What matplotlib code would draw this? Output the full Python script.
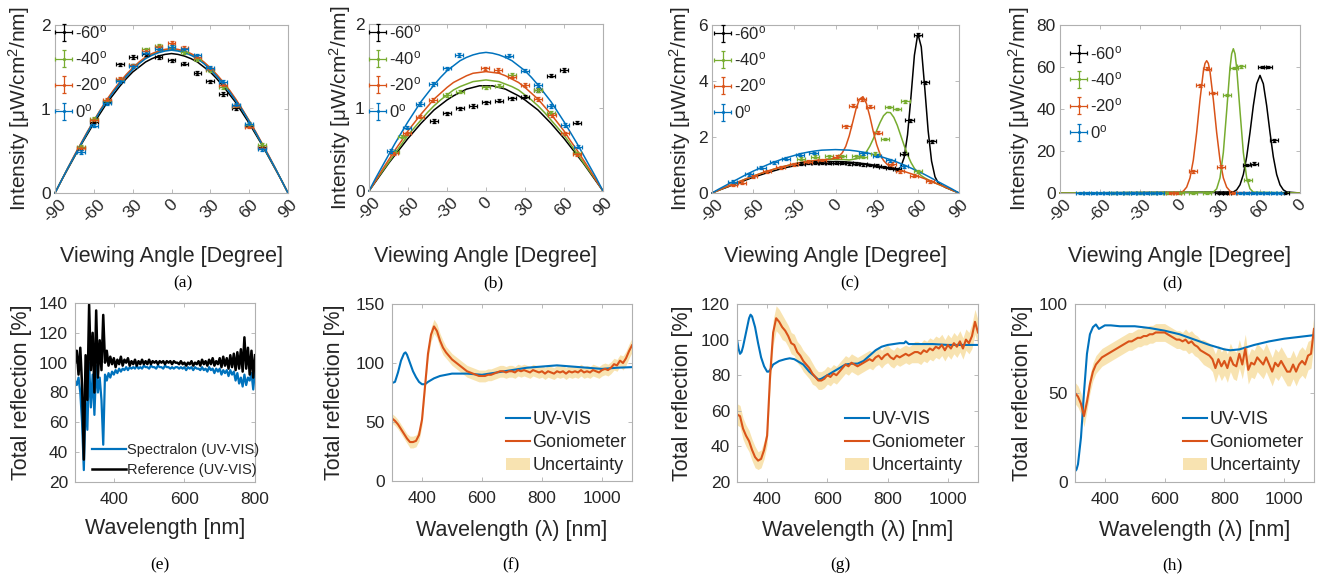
import numpy as np
import matplotlib
matplotlib.use('Agg')
import matplotlib.pyplot as plt
from matplotlib.lines import Line2D
from matplotlib.patches import Patch

plt.rcParams['font.family'] = ['Liberation Sans', 'DejaVu Sans']
plt.rcParams['mathtext.fontset'] = 'custom'
plt.rcParams['mathtext.rm'] = 'Liberation Sans'
plt.rcParams['mathtext.it'] = 'Liberation Sans:italic'

# ======================= DATA =======================
# --- top row: angular intensity (fits on 5-degree grid) ---
fit_x = np.arange(-90, 91, 5)
series_labels = ['-60$^\\mathrm{o}$', '-40$^\\mathrm{o}$', '-20$^\\mathrm{o}$', '0$^\\mathrm{o}$']

# (a)
a_fit_m60 = [0, .15, .29, .43, .57, .70, .83, .95, 1.07, 1.17, 1.27, 1.36, 1.44, 1.50, 1.56, 1.60, 1.63, 1.65, 1.66,
             1.65, 1.63, 1.60, 1.56, 1.50, 1.44, 1.36, 1.27, 1.17, 1.07, .95, .83, .70, .57, .43, .29, .15, 0]
a_fit_m40 = [0, .15, .30, .44, .58, .72, .86, .98, 1.10, 1.21, 1.31, 1.40, 1.48, 1.55, 1.61, 1.65, 1.68, 1.70, 1.71,
             1.70, 1.68, 1.65, 1.61, 1.55, 1.48, 1.40, 1.31, 1.21, 1.10, .98, .86, .72, .58, .44, .30, .15, 0]
a_fit_m20 = [0, .15, .30, .45, .59, .73, .86, .99, 1.11, 1.22, 1.32, 1.41, 1.49, 1.56, 1.62, 1.66, 1.69, 1.71, 1.72,
             1.71, 1.69, 1.66, 1.62, 1.56, 1.49, 1.41, 1.32, 1.22, 1.11, .99, .86, .73, .59, .45, .30, .15, 0]
a_fit_0 = [0, .15, .30, .44, .58, .72, .85, .98, 1.09, 1.20, 1.30, 1.39, 1.47, 1.54, 1.60, 1.64, 1.67, 1.69, 1.70,
           1.69, 1.67, 1.64, 1.60, 1.54, 1.47, 1.39, 1.30, 1.20, 1.09, .98, .85, .72, .58, .44, .30, .15, 0]
a_x = [-70, -60, -50, -40, -30, -20, -10, 0, 10, 20, 30, 40, 50, 60, 70]
a_m60 = [0.53, 0.85, 1.08, 1.53, 1.62, 1.65, 1.62, 1.58, 1.54, 1.43, 1.33, 1.18, 1.01, 0.80, 0.55]
a_m40 = [0.55, 0.88, 1.10, 1.35, 1.52, 1.71, 1.75, 1.74, 1.68, 1.59, 1.46, 1.26, 1.04, 0.81, 0.57]
a_m20 = [0.54, 0.87, 1.11, 1.36, 1.52, 1.69, 1.74, 1.79, 1.73, 1.62, 1.48, 1.29, 1.04, 0.79, 0.54]
a_0 = [0.49, 0.80, 1.07, 1.33, 1.51, 1.67, 1.72, 1.74, 1.71, 1.64, 1.49, 1.32, 1.05, 0.82, 0.52]

# (b)
b_fit_m60 = [0, .11, .22, .33, .43, .53, .63, .72, .81, .89, .97, 1.03, 1.09, 1.14, 1.18, 1.22, 1.24, 1.26, 1.26,
             1.26, 1.24, 1.22, 1.18, 1.14, 1.09, 1.03, .97, .89, .81, .72, .63, .53, .43, .33, .22, .11, 0]
b_fit_m40 = [0, .12, .23, .34, .45, .56, .67, .76, .85, .94, 1.02, 1.09, 1.15, 1.21, 1.25, 1.28, 1.31, 1.32, 1.33,
             1.32, 1.31, 1.28, 1.25, 1.21, 1.15, 1.09, 1.02, .94, .85, .76, .67, .56, .45, .34, .23, .12, 0]
b_fit_m20 = [0, .12, .25, .37, .49, .60, .72, .82, .92, 1.01, 1.10, 1.17, 1.24, 1.30, 1.34, 1.38, 1.41, 1.42, 1.43,
             1.42, 1.41, 1.38, 1.34, 1.30, 1.24, 1.17, 1.10, 1.01, .92, .82, .72, .60, .49, .37, .25, .12, 0]
b_fit_0 = [0, .15, .29, .43, .57, .70, .83, .95, 1.07, 1.17, 1.27, 1.36, 1.44, 1.50, 1.56, 1.60, 1.63, 1.65, 1.66,
           1.65, 1.63, 1.60, 1.56, 1.50, 1.44, 1.36, 1.27, 1.17, 1.07, .95, .83, .70, .57, .43, .29, .15, 0]
b_x_m60 = [-40, -30, -20, -10, 0, 10, 20, 30, 40, 50, 60, 70]
b_y_m60 = [0.84, 0.93, 0.99, 1.02, 1.06, 1.08, 1.11, 1.13, 1.21, 1.38, 1.45, 0.82]
b_x_m40 = [-70, -65, -30, -20, 0, 10, 20, 40, 50, 70]
b_y_m40 = [0.47, 0.65, 1.15, 1.19, 1.24, 1.26, 1.39, 1.21, 0.94, 0.45]
b_x_m20 = [-71, -61, -51, -41, -1, 9, 20, 30, 40, 51, 61, 70]
b_y_m20 = [0.45, 0.69, 0.89, 1.09, 1.47, 1.45, 1.37, 1.27, 1.10, 0.91, 0.69, 0.44]
b_x_0 = [-73, -61, -51, -41, -30, -21, 18, 30, 40, 50, 61, 71]
b_y_0 = [0.48, 0.76, 1.04, 1.28, 1.47, 1.63, 1.62, 1.44, 1.27, 1.02, 0.79, 0.53]

# (c)
c_fit_0 = [0, .14, .27, .40, .53, .66, .78, .89, 1.00, 1.10, 1.19, 1.27, 1.34, 1.41, 1.46, 1.50, 1.53, 1.54, 1.55,
           1.54, 1.53, 1.50, 1.46, 1.41, 1.34, 1.27, 1.19, 1.10, 1.00, .89, .78, .66, .53, .40, .27, .14, 0]
c_fit_m60_x = np.r_[np.arange(-90, 46, 5), np.arange(47.5, 75.1, 2.5), [80, 85, 90]]
c_fit_m60 = [0, .10, .19, .29, .38, .47, .56, .64, .72, .79, .86, .92, .97, 1.02, 1.05, 1.08, 1.10, 1.12, 1.12, 1.12,
             1.10, 1.08, 1.05, 1.02, .97, .92, .86, .83, .92, 1.26, 2.08, 3.44, 4.92, 5.69, 5.22, 3.78, 2.23, 1.14,
             .58, .35, .20, .10, 0]
c_fit_m20_x = np.r_[np.arange(-90, -4, 5), np.arange(0, 40.1, 2.5), np.arange(45, 91, 5)]
c_fit_m20 = [0, .10, .21, .31, .41, .51, .60, .69, .77, .85, .92, .98, 1.04, 1.09, 1.13, 1.16, 1.18, 1.20,
             1.25, 1.31, 1.44, 1.67, 2.04, 2.52, 3.01, 3.35, 3.44, 3.20, 2.74, 2.20, 1.73, 1.38, 1.16, 1.03, .95,
             .85, .77, .69, .60, .51, .41, .31, .21, .10, 0]
c_fit_m40_x = np.r_[np.arange(-90, 11, 5), np.arange(15, 65.1, 2.5), np.arange(70, 91, 5)]
c_fit_m40 = [0, .10, .21, .31, .41, .51, .60, .69, .77, .85, .92, .98, 1.04, 1.09, 1.13, 1.16, 1.18, 1.20, 1.20, 1.20, 1.18,
             1.22, 1.26, 1.34, 1.47, 1.67, 1.93, 2.23, 2.52, 2.76, 2.88, 2.87, 2.70, 2.42, 2.06, 1.70, 1.37, 1.09, .88,
             .73, .62, .54, .41, .31, .21, .10, 0]
c_x_m60 = [-25, -20, -15, -10, -5, 0, 5, 10, 15, 20, 25, 30, 35, 40, 45, 50, 54, 60, 65, 70]
c_y_m60 = [1.05, 1.07, 1.08, 1.08, 1.08, 1.08, 1.07, 1.06, 1.05, 1.03, 1.00, 0.97, 0.93, 0.89, 0.85, 1.40, 2.60,
           5.65, 3.95, 1.85]
c_x_m40 = [-25, -15, -5, 5, 15, 20, 29, 36, 39, 45, 51, 60]
c_y_m40 = [1.22, 1.30, 1.31, 1.32, 1.31, 1.30, 1.40, 1.93, 3.07, 3.00, 3.27, 0.78]
c_x_m20 = [-75, -68, -60, -50, -40, -30, -20, -10, 1, 8, 13, 19, 25, 31, 41, 47, 57, 69]
c_y_m20 = [0.30, 0.37, 0.60, 0.77, 0.92, 1.03, 1.12, 1.18, 1.30, 2.38, 3.12, 3.34, 3.08, 2.15, 1.05, 0.78, 0.62, 0.42]
c_x_0 = [-75, -63, -54, -45, -36, -26, -16, 20, 30, 40, 50]
c_y_0 = [0.40, 0.67, 0.91, 1.09, 1.22, 1.37, 1.43, 1.42, 1.33, 1.17, 0.96]

# (d)
d_fit_m60_x = np.r_[[-90], np.arange(40, 80.1, 2.5), [90]]
d_fit_m60 = [0, .5, 1.5, 3.9, 8.8, 17.2, 28.8, 41.6, 52.0, 56, 52.0, 41.6, 28.8, 17.2, 8.8, 3.9, 1.5, .5, 0]
d_fit_m40_x = [-90, 25, 27.5, 30, 32.5, 35, 37.5, 38.75, 40, 41.25, 42.5, 45, 47.5, 50, 52.5, 55, 90]
d_fit_m40 = [0, .4, 2.0, 7.2, 19.3, 39.0, 59.6, 66.3, 68.7, 66.3, 59.6, 39.0, 19.3, 7.2, 2.0, .4, 0]
d_fit_m20_x = [-90, 0, 2.5, 5, 7.5, 10, 12.5, 15, 17.5, 18.75, 20, 21.25, 22.5, 25, 27.5, 30, 32.5, 35, 37.5, 40, 90]
d_fit_m20 = [0, .2, .9, 2.8, 7.2, 15.7, 28.8, 44.5, 57.8, 61.7, 63, 61.7, 57.8, 44.5, 28.8, 15.7, 7.2, 2.8, .9, .2, 0]
d_x_m60 = [29, 32, 35, 50, 55.5, 61.5, 66, 70.5, 78.75]
d_y_m60 = [0, 0, 0, 13.4, 14.0, 60, 60, 25.1, 0]
d_x_m40 = [-50, -40, -30, -20, -10, 0, 10, 20, 35, 40.5, 46, 51]
d_y_m40 = [0, 0, 0, 0, 0, 0, 0, 0, 46.6, 59.5, 60.3, 6.2]
d_x_m20 = [-7.5, -2.5, 10, 15, 20, 25, 30.5, 40]
d_y_m20 = [0, 0, 10.3, 51.2, 59.2, 47.7, 12.5, 0]
d_x_0 = [-75, -70, -65, -60, -55, -50, -45, -40, -35, -30, -25, -20, -15, 45, 50, 55, 60, 65, 70, 75]
d_y_0 = [0, 0, 0, 0, 0, 0, 0, 0, 0, 0, 0, 0, 0, 0, 0, 0, 0, 0, 0, 0]

# --- bottom row: reflection spectra ---
e_wl = np.arange(290, 801, 5)
e_reference = [100, 108, 92, 110, 85, 35, 105, 75, 139, 95, 120, 80, 135, 90, 115, 95, 132, 100, 108,
               98, 104, 99, 103, 97, 102, 99, 104, 98, 102, 100, 103, 98, 101, 99, 102, 98, 101, 99, 102,
               99, 101, 99, 102, 99, 101, 100, 101, 99, 101, 100, 101, 99, 101, 100, 101, 99, 101, 100, 100,
               99, 101, 99, 100, 98, 100, 99, 101, 98, 100, 99, 101, 98, 102, 99, 101, 98, 102, 99, 103,
               98, 101, 99, 103, 97, 104, 98, 103, 96, 105, 97, 106, 95, 107, 96, 109, 94, 117, 96, 110, 92, 108, 90, 105]
e_spectralon = [88, 85, 90, 80, 60, 28, 75, 55, 100, 70, 92, 65, 98, 80, 90, 75, 45, 92, 88,
                93, 90, 94, 92, 95, 93, 96, 94, 96, 95, 97, 95, 97, 96, 97, 96, 98, 96, 97, 96,
                98, 97, 97, 96, 98, 97, 97, 96, 98, 97, 97, 96, 98, 97, 97, 96, 97, 96, 97, 97,
                96, 97, 96, 97, 95, 97, 96, 97, 95, 97, 96, 96, 95, 97, 95, 96, 94, 97, 95, 96,
                93, 96, 94, 96, 92, 95, 93, 95, 91, 95, 92, 94, 88, 93, 86, 90, 84, 92, 85, 90, 88, 93, 82, 95]

gon_wl = np.arange(300, 1101, 10)

f_uv_wl = [300, 310, 320, 330, 340, 345, 350, 360, 370, 380, 390, 400, 410, 420, 440, 460, 480, 500, 550, 600,
           650, 700, 750, 800, 850, 900, 950, 1000, 1050, 1100]
f_uv = [83, 84, 92, 102, 108, 109, 107, 100, 93, 88, 84, 82, 82, 84, 87, 89, 90, 91, 91, 90,
        92, 94, 96, 97, 98, 97, 96, 95, 96, 96.5]
f_gon = [53, 51, 48, 44, 40, 36, 33, 33, 34, 39,
         52, 80, 108, 124, 131, 127, 119, 113, 109, 106,
         103, 101, 99, 97, 95, 93, 92, 91, 90, 89,
         89, 89, 90, 90, 91, 92, 93, 93, 92, 93,
         93, 92, 94, 93, 94, 93, 92, 94, 93, 92,
         93, 91, 93, 92, 91, 93, 92, 93, 91, 93,
         92, 93, 92, 94, 92, 93, 92, 94, 93, 92,
         94, 95, 94, 96, 99, 98, 102, 100, 104, 110,
         115]
f_unc = [4, 4, 4, 4, 4, 4, 5, 5, 5, 5,
         5, 5, 5, 6, 6, 6, 6, 6, 5, 5,
         5, 5, 5, 5, 5, 5, 5, 5, 5, 5,
         5, 5, 5, 5, 5, 5, 5, 5, 5, 5,
         5, 5, 5, 5, 5, 5, 5, 5, 5, 5,
         5, 5, 5, 5, 5, 5, 5, 5, 5, 5,
         5, 5, 5, 5, 5, 5, 5, 5, 5, 5,
         5, 5, 5, 5, 5, 5, 5, 6, 6, 6,
         6]

g_uv_wl = [300, 305, 310, 315, 320, 330, 340, 345, 350, 360, 370, 380, 390, 400, 405, 410, 420, 440, 460, 475,
           490, 500, 520, 540, 560, 570, 580, 600, 620, 640, 660, 680, 700, 720, 740, 760, 780, 800, 820, 840,
           855, 860, 870, 900, 950, 1000, 1050, 1100]
g_uv = [100, 95, 92, 93, 96, 104, 112, 114, 113, 107, 98, 90, 85, 82, 82, 83, 86, 88, 89, 89.5,
        89, 88, 86, 82, 79, 77.5, 78, 80, 82, 84, 86, 86.5, 86.5, 88, 91, 94, 96, 97, 97.5, 98,
        98, 99, 97.5, 97.5, 97.5, 97, 97, 97]
g_gon = [58, 57, 50, 46, 43, 38, 34, 32, 33, 38,
         46, 80, 104, 112, 110, 107, 105, 102, 98, 97,
         93, 91, 88, 86, 84, 81, 79, 77, 77, 78,
         80, 79, 81, 80, 82, 84, 86, 85, 87, 86,
         85, 86, 87, 88, 89, 88, 90, 91, 89, 91,
         92, 90, 89, 91, 90, 91, 92, 91, 92, 93,
         93, 92, 94, 93, 95, 94, 96, 95, 97, 94,
         97, 95, 98, 96, 99, 95, 100, 98, 102, 110,
         104]
g_unc = [6, 6, 6, 6, 6, 6, 6, 5, 5, 5,
         5, 6, 7, 7, 7, 7, 6, 6, 6, 6,
         6, 6, 6, 6, 6, 6, 5, 5, 5, 5,
         5, 5, 5, 5, 5, 5, 5, 5, 5, 5,
         5, 5, 5, 5, 5, 5, 5, 5, 5, 5,
         5, 5, 5, 5, 5, 5, 5, 5, 5, 6,
         6, 6, 6, 6, 6, 6, 6, 6, 6, 6,
         6, 6, 6, 6, 6, 6, 6, 6, 7, 7,
         7]

h_uv_wl = [300, 305, 310, 320, 330, 340, 350, 360, 370, 380, 390, 400, 420, 450, 500, 550, 600, 650, 700, 750,
           800, 820, 850, 900, 950, 1000, 1050, 1100]
h_uv = [6, 7, 10, 25, 50, 72, 83, 87, 88.5, 86, 87, 88, 88, 87.5, 87.5, 86.5, 85, 83, 80, 77,
        74.5, 74, 74.5, 77, 79, 80.5, 81.5, 82.5]
h_gon = [50, 48, 44, 37, 45, 55, 62, 66, 68, 70,
         71, 72, 73, 74, 75, 76, 77, 78, 79, 79,
         80, 81, 81, 82, 82, 83, 83, 84, 84, 84,
         84, 83, 82, 81, 80, 80, 79, 80, 78, 79,
         77, 76, 74, 73, 72, 71, 69, 64, 69, 65,
         68, 64, 70, 66, 65, 72, 66, 75, 63, 67,
         66, 70, 68, 66, 70, 66, 62, 67, 65, 68,
         65, 62, 62, 66, 62, 66, 68, 66, 71, 72,
         86]
h_unc = [6, 6, 6, 6, 5, 5, 5, 5, 5, 5,
         5, 5, 5, 5, 5, 5, 5, 5, 5, 5,
         5, 5, 5, 5, 5, 5, 5, 5, 5, 5,
         5, 5, 5, 5, 5, 5, 5, 6, 6, 6,
         6, 6, 6, 7, 7, 7, 7, 8, 8, 8,
         8, 8, 8, 8, 8, 8, 8, 8, 8, 8,
         8, 8, 8, 8, 8, 8, 8, 8, 8, 8,
         8, 8, 8, 8, 8, 8, 8, 8, 8, 8,
         8]

# ======================= STYLE / LAYOUT =======================
C_BLUE, C_ORANGE, C_YELLOW, C_GREEN, C_BLACK = '#0072BD', '#D95319', '#EDB120', '#77AC30', '#000000'
TXT = '#262626'
EDGE = '#B0B0B0'

W, H = 1324, 579
fig = plt.figure(figsize=(W / 100, H / 100), dpi=100)


def make_ax(l, t, r, b, tick_fs):
    ax = fig.add_axes([l / W, 1 - b / H, (r - l) / W, (b - t) / H])
    for s in ax.spines.values():
        s.set_color(EDGE)
        s.set_linewidth(0.8)
    ax.tick_params(which='both', direction='in', top=True, right=True, length=3, width=0.6,
                   color=EDGE, labelcolor=TXT, labelsize=tick_fs)
    return ax


def fig_legend(ax, handles, labels, x_px, y_px, fs, **kw):
    return ax.legend(handles, labels, loc='upper left', bbox_to_anchor=(x_px / W, 1 - y_px / H),
                     bbox_transform=fig.transFigure, frameon=False, fontsize=fs,
                     borderpad=0, borderaxespad=0, labelcolor=TXT, **kw)


def top_panel(box, curves, points, ylim, yticks, xlabels, yerr, leg_xy, ylab_x):
    ax = make_ax(*box, tick_fs=12.5)
    for x, y, c in curves:
        ax.plot(x, y, color=c, lw=1.1, clip_on=False, zorder=2)
    handles = []
    for x, y, c in points:
        h = ax.errorbar(x, y, xerr=3, yerr=yerr, fmt='.', color=c, ms=2.5, elinewidth=0.9,
                        capsize=1.5, capthick=0.9, clip_on=False, zorder=3)
        handles.append(h)
    ax.set_xlim(-90, 90)
    ax.set_ylim(*ylim)
    ax.set_yticks(yticks)
    ax.set_xticks([-90, -60, -30, 0, 30, 60, 90])
    ax.set_xticklabels(xlabels, rotation=45, ha='center', va='top')
    ax.tick_params(axis='x', pad=3)
    ax.tick_params(axis='y', pad=3)
    ax.set_xlabel('Viewing Angle [Degree]', fontsize=15.5, color=TXT)
    ax.set_ylabel('Intensity [μW/cm$^2$/nm]', fontsize=15, color=TXT)
    hpx = box[3] - box[1]
    ax.xaxis.set_label_coords(0.5, -(246 - box[3]) / hpx)
    ax.yaxis.set_label_coords(ylab_x, 0.5)
    fig_legend(ax, handles, series_labels, leg_xy[0], leg_xy[1], 12,
               handlelength=0.8, handletextpad=0.3, labelspacing=0.5)
    return ax


lab_std = ['-90', '-60', '-30', '0', '30', '60', '90']

# (a)
top_panel((55, 25, 288, 193),
          [(fit_x, a_fit_m60, C_BLACK), (fit_x, a_fit_m40, C_GREEN), (fit_x, a_fit_m20, C_ORANGE), (fit_x, a_fit_0, C_BLUE)],
          [(a_x, a_m60, C_BLACK), (a_x, a_m40, C_GREEN), (a_x, a_m20, C_ORANGE), (a_x, a_0, C_BLUE)],
          (0, 2), [0, 1, 2], ['-90', '-60', '30', '0', '30', '60', '90'], 0.02, (57, 23), -0.10)
# (b)
top_panel((369, 24, 603, 191),
          [(fit_x, b_fit_m60, C_BLACK), (fit_x, b_fit_m40, C_GREEN), (fit_x, b_fit_m20, C_ORANGE), (fit_x, b_fit_0, C_BLUE)],
          [(b_x_m60, b_y_m60, C_BLACK), (b_x_m40, b_y_m40, C_GREEN), (b_x_m20, b_y_m20, C_ORANGE), (b_x_0, b_y_0, C_BLUE)],
          (0, 2), [0, 1, 2], lab_std, 0.02, (371, 23), -0.07)
# (c)
top_panel((712, 25, 959, 193),
          [(c_fit_m60_x, c_fit_m60, C_BLACK), (c_fit_m40_x, c_fit_m40, C_GREEN), (c_fit_m20_x, c_fit_m20, C_ORANGE), (fit_x, c_fit_0, C_BLUE)],
          [(c_x_m60, c_y_m60, C_BLACK), (c_x_m40, c_y_m40, C_GREEN), (c_x_m20, c_y_m20, C_ORANGE), (c_x_0, c_y_0, C_BLUE)],
          (0, 6), [0, 2, 4, 6], lab_std, 0.05, (716, 24), -0.077)
# (d)
top_panel((1060, 25, 1300, 193),
          [(d_fit_m60_x, d_fit_m60, C_BLACK), (d_fit_m20_x, d_fit_m20, C_ORANGE), (d_fit_m40_x, d_fit_m40, C_GREEN)],
          [(d_x_m60, d_y_m60, C_BLACK), (d_x_m40, d_y_m40, C_GREEN), (d_x_m20, d_y_m20, C_ORANGE), (d_x_0, d_y_0, C_BLUE)],
          (0, 80), [0, 20, 40, 60, 80], ['-90', '-60', '-30', '0', '30', '60', '0'], 0.6, (1072, 44), -0.117)


def bottom_panel(box, xlim, xticks, ylim, yticks, xlabel, ylab_x, xlab_top):
    ax = make_ax(*box, tick_fs=12.5)
    ax.set_xlim(*xlim)
    ax.set_ylim(*ylim)
    ax.set_xticks(xticks)
    ax.set_yticks(yticks)
    ax.tick_params(axis='x', pad=7)
    ax.tick_params(axis='y', pad=5)
    ax.set_xlabel(xlabel, fontsize=15.5, color=TXT)
    ax.set_ylabel('Total reflection [%]', fontsize=15.5, color=TXT)
    hpx = box[3] - box[1]
    ax.xaxis.set_label_coords(0.5, -(xlab_top - box[3]) / hpx)
    ax.yaxis.set_label_coords(ylab_x, 0.5)
    return ax


# (e)
ax = bottom_panel((75, 303, 255, 482), (290, 800), [400, 600, 800], (20, 140), [20, 40, 60, 80, 100, 120, 140],
                  'Wavelength [nm]', -0.239, 518)
ax.plot(e_wl, e_spectralon, color=C_BLUE, lw=1.6)
ax.plot(e_wl, e_reference, color=C_BLACK, lw=1.8)
fig_legend(ax, [Line2D([], [], color=C_BLUE, lw=1.6), Line2D([], [], color=C_BLACK, lw=1.8)],
           ['Spectralon (UV-VIS)', 'Reference (UV-VIS)'], 92, 443, 10.5,
           handlelength=2.3, handletextpad=0.1, labelspacing=0.4)

lab_wl = 'Wavelength (λ) [nm]'
bottom_specs = [
    ((392, 304, 632, 481), (0, 150), [0, 50, 100, 150], f_uv_wl, f_uv, f_gon, f_unc, -0.196, 506),
    ((737, 304, 978, 482), (20, 120), [20, 40, 60, 80, 100, 120], g_uv_wl, g_uv, g_gon, g_unc, -0.183, 845),
    ((1075, 304, 1314, 482), (0, 100), [0, 50, 100], h_uv_wl, h_uv, h_gon, h_unc, -0.176, 1183),
]
for box, ylim, yticks, uvx, uvy, gon, unc, ylx, legx in bottom_specs:
    ax = bottom_panel(box, (300, 1100), [400, 600, 800, 1000], ylim, yticks, lab_wl, ylx, 520)
    ax.plot(uvx, uvy, color=C_BLUE, lw=1.5)
    ax.plot(gon_wl, gon, color=C_ORANGE, lw=1.5)
    lo = np.array(gon) - np.array(unc)
    hi = np.array(gon) + np.array(unc)
    ax.fill_between(gon_wl, lo, hi, color=C_YELLOW, alpha=0.35, lw=0)
    fig_legend(ax, [Line2D([], [], color=C_BLUE, lw=1.5), Line2D([], [], color=C_ORANGE, lw=1.5),
                    Patch(facecolor=C_YELLOW, alpha=0.35, lw=0)],
               ['UV-VIS', 'Goniometer', 'Uncertainty'], legx, 411, 13,
               handlelength=1.35, handletextpad=0.1, labelspacing=0.34)

# captions
for lab, x, y in [('(a)', 183, 283), ('(b)', 493, 283), ('(c)', 850, 283), ('(d)', 1172, 283),
                  ('(e)', 160, 565), ('(f)', 511, 565), ('(g)', 840, 565), ('(h)', 1172, 565)]:
    fig.text(x / W, 1 - y / H, lab, ha='center', va='center', family='Liberation Serif', fontsize=12.5, color='black')

fig.savefig('out.png', dpi=100)
